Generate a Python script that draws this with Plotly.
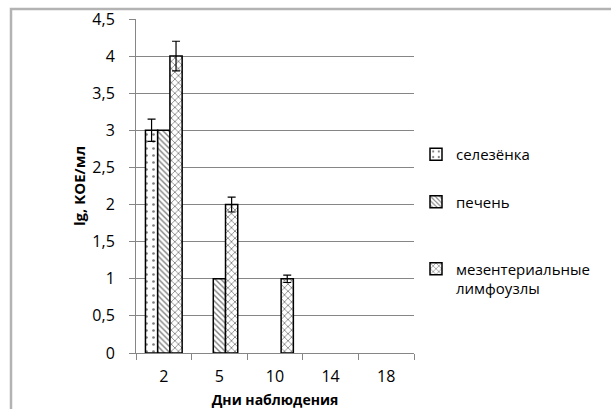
import plotly.graph_objects as go

days = ["2", "5", "10", "14", "18"]
series_names = ["селезёнка", "печень", "<br>мезентериальные<br>лимфоузлы"]
spleen = [3, None, None, None, None]
spleen_err = [0.15, 0, 0, 0, 0]
liver = [3, 1, None, None, None]
liver_err = [0, 0, 0, 0, 0]
nodes = [4, 2, 1, None, None]
nodes_err = [0.2, 0.1, 0.05, 0, 0]

y_ticks = [0, 0.5, 1, 1.5, 2, 2.5, 3, 3.5, 4, 4.5]
y_ticklabels = ["0", "0,5", "1", "1,5", "2", "2,5", "3", "3,5", "4", "4,5"]

FONT = "Open Sans"
W, H = 611, 409
L, R, T, B = 136, 197, 19, 56
pw, ph = W - L - R, H - T - B

patterns = [
    dict(shape=".", fgcolor="black", bgcolor="white", size=7, solidity=0.12),
    dict(shape="\\", fgcolor="black", bgcolor="white", size=4, solidity=0.35),
    dict(shape="x", fgcolor="black", bgcolor="white", size=5, solidity=0.3),
]
values = [spleen, liver, nodes]
errors = [spleen_err, liver_err, nodes_err]

fig = go.Figure()
for i, (name, vals, errs, pat) in enumerate(zip(series_names, values, errors, patterns)):
    show_err = any(e > 0 for e in errs)
    fig.add_trace(go.Bar(
        x=days, y=vals, name=name, legendgroup=str(i),
        marker=dict(color="white", pattern=pat, line=dict(color="black", width=1.5)),
        error_y=dict(type="data", array=errs,
                     visible=show_err, color="black", thickness=1.2, width=4),
    ))

fig.update_layout(
    width=W, height=H,
    margin=dict(l=L, r=R, t=T, b=B, autoexpand=False),
    paper_bgcolor="white", plot_bgcolor="white",
    barmode="group", bargap=0.34, bargroupgap=0,
    separators=", ",
    font=dict(family=FONT, size=16, color="black"),
    showlegend=True,
    legend=dict(x=(416 - L) / pw, y=(H - B - 138) / ph, xanchor="left", yanchor="top",
                font=dict(family=FONT, size=15, color="black"),
                tracegroupgap=25, itemwidth=30, bgcolor="rgba(0,0,0,0)"),
    xaxis=dict(
        type="category", showgrid=False, showline=True, linecolor="#868686", linewidth=1,
        ticks="outside", tickson="boundaries", ticklen=6, tickcolor="#868686",
        ticklabelstandoff=9, automargin=False,
        title=dict(text="<b>Дни наблюдения</b>", font=dict(size=14), standoff=8),
    ),
    yaxis=dict(
        range=[0, 4.5], tickvals=y_ticks, ticktext=y_ticklabels,
        showgrid=True, gridcolor="#868686", gridwidth=1,
        showline=True, linecolor="#868686", linewidth=1,
        ticks="outside", ticklen=6, tickcolor="#868686", ticklabelstandoff=11,
        zeroline=False, automargin=False,
        title=dict(text="<b>lg, КОЕ/мл</b>", font=dict(size=15), standoff=3),
    ),
    shapes=[dict(
        type="rect", xref="paper", yref="paper",
        x0=(11 - L) / pw, x1=(W + 10 - L) / pw,
        y0=(H - B - (H + 10)) / ph, y1=(H - B - 9) / ph,
        line=dict(color="#b3b3b3", width=2.5), fillcolor="rgba(0,0,0,0)", layer="below",
    )],
)

fig.write_html("out.html")
